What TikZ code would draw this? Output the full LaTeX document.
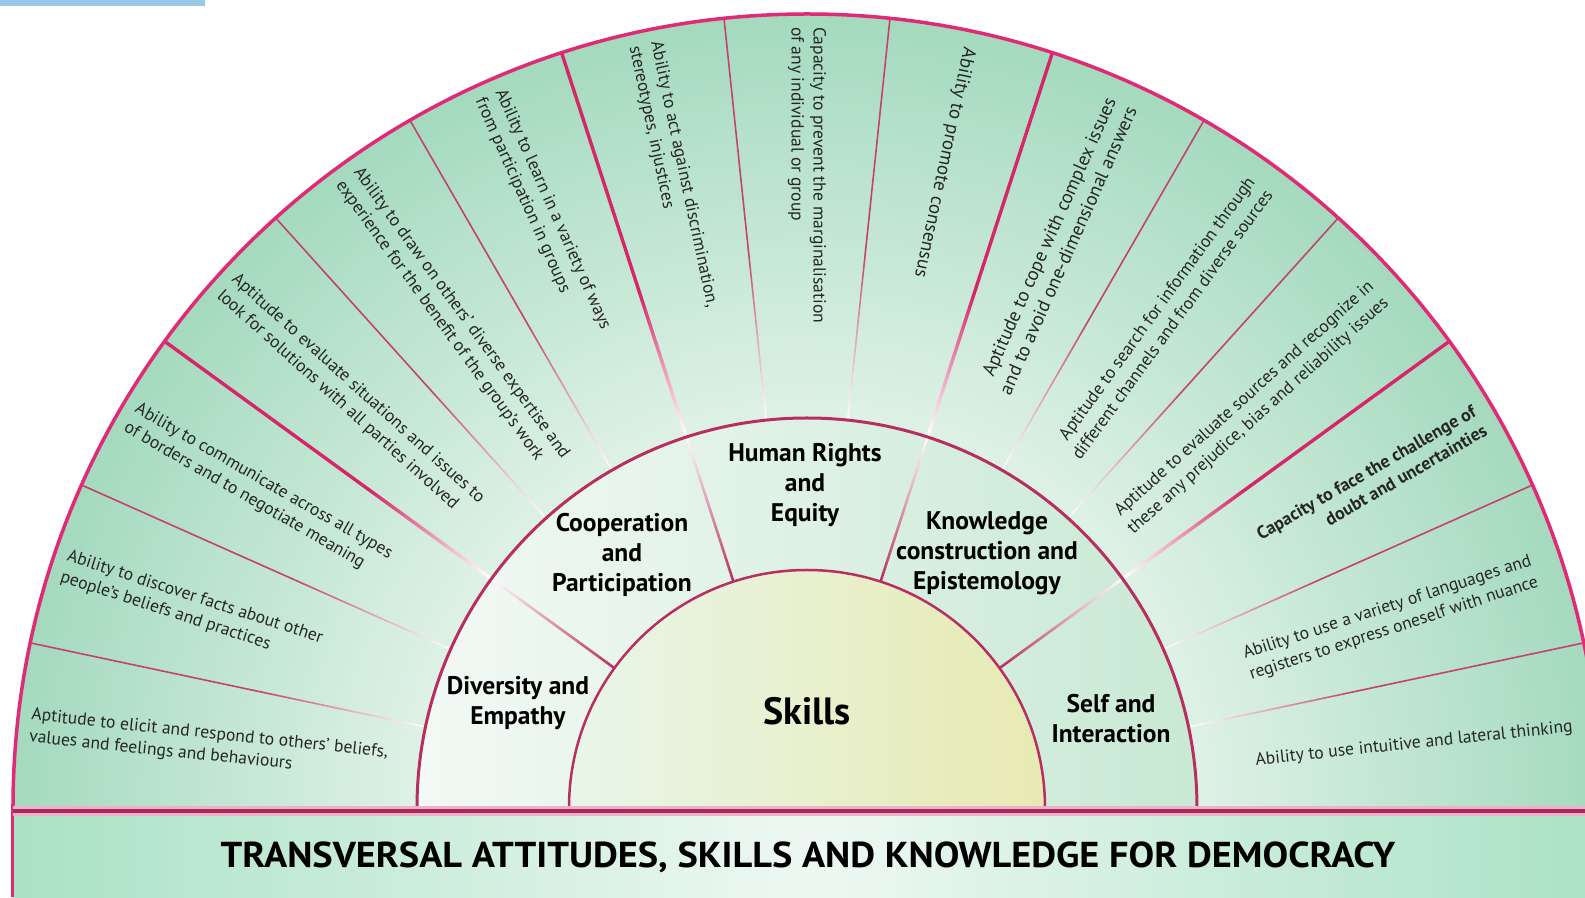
\documentclass[tikz,border=0pt]{standalone}
\usepackage{fontspec}
\setmainfont{PT Sans}
\definecolor{rimpink}{RGB}{224,42,118}
\definecolor{spokepink}{RGB}{196,66,112}
\definecolor{thickpink}{RGB}{214,38,106}
\definecolor{ringpink}{RGB}{184,46,96}
\definecolor{barred}{RGB}{162,44,88}
\definecolor{bargleam}{RGB}{240,176,204}
\definecolor{mint}{RGB}{164,218,190}
\definecolor{mintpale}{RGB}{224,242,231}
\definecolor{ringleft}{RGB}{243,249,245}
\definecolor{ringright}{RGB}{200,233,212}
\definecolor{coreleft}{RGB}{232,246,234}
\definecolor{coremid}{RGB}{237,242,212}
\definecolor{coreright}{RGB}{232,234,178}
\definecolor{barmint}{RGB}{170,226,197}
\definecolor{barpale}{RGB}{238,248,243}
\definecolor{tabblue}{RGB}{152,202,232}
\pgfdeclareradialshading{fanshade}{\pgfpointorigin}{color(0bp)=(mintpale); color(12bp)=(mintpale); color(25bp)=(mint); color(75bp)=(mint)}

\begin{document}
\begin{tikzpicture}[x=1pt,y=1pt,
  outtext/.style={font=\fontsize{17.6}{22}\selectfont, inner sep=0pt, text=black!85},
  bigtext/.style={font=\fontsize{19}{23}\selectfont},
  lefttext/.style={outtext, anchor=west, align=left},
  righttext/.style={outtext, anchor=east, align=right},
  midtext/.style={font=\fontsize{25.5}{30}\selectfont\bfseries, align=center, inner sep=0pt}]
\useasboundingbox (-807,-89) rectangle (778,808);
\fill[tabblue] (-807,808) rectangle (-602,802);
\shade[left color=barmint, right color=barmint, middle color=barpale] (-794,-89) rectangle (800,-3);
\begin{scope}
  \clip (-800,-3) rectangle (800,800);
  \shade[shading=fanshade] (0,0) circle (794);
  \foreach \a in {12,24,...,168} {
    \shade[transform canvas={rotate=\a}, left color=white, right color=spokepink] (392,-0.8) rectangle (560,0.8);
    \fill[transform canvas={rotate=\a}, spokepink] (560,-0.8) rectangle (794,0.8);
  }
  \foreach \a in {36,72,108,144} {
    \shade[transform canvas={rotate=\a}, left color=white, right color=thickpink] (392,-1.7) rectangle (540,1.7);
    \fill[transform canvas={rotate=\a}, thickpink] (540,-1.7) rectangle (794,1.7);
  }
  \shade[left color=ringleft, right color=ringright] (0,0) circle (390);
  \foreach \a in {36,72,108,144}
    \shade[transform canvas={rotate=\a}, left color=ringpink, right color=white] (238,-1.3) rectangle (392,1.3);
  \shade[left color=coreleft, middle color=coremid, right color=coreright] (0,0) circle (238);
\end{scope}
\draw[rimpink, line width=3.5] (-794,-3) -- (-794,0) arc[start angle=180, end angle=0, radius=794] -- (794,-3);
\draw[ringpink, line width=3] (-390,-3) -- (-390,0) arc[start angle=180, end angle=0, radius=390] -- (390,-3);
\draw[ringpink, line width=2.5] (-238,-3) -- (-238,0) arc[start angle=180, end angle=0, radius=238] -- (238,-3);
\draw[rimpink, line width=3] (-794,-3) -- (-794,-89);
\draw[bargleam, line width=10] (-794,-3) -- (800,-3);
\draw[barred, line width=4.5] (-794,-3) -- (800,-3);

\node[lefttext, rotate=-6] (elicit) at (174:781) {Aptitude to elicit and respond to others' beliefs,\\values and feelings and behaviours};
\node[lefttext, rotate=-18] (discover) at (162:781) {Ability to discover facts about other\\people's beliefs and practices};
\node[lefttext, rotate=-30] (communicate) at (150:781) {Ability to communicate across all types\\of borders and to negotiate meaning};
\node[lefttext, rotate=-42] (situations) at (138:781) {Aptitude to evaluate situations and issues to\\look for solutions with all parties involved};
\node[lefttext, rotate=-54] (expertise) at (126:781) {Ability to draw on others' diverse expertise and\\experience for the benefit of the group's work};
\node[lefttext, rotate=-66] (learn) at (114:781) {Ability to learn in a variety of ways\\from participation in groups};
\node[lefttext, rotate=-78] (discrimination) at (102:781) {Ability to act against discrimination,\\stereotypes, injustices};
\node[lefttext, rotate=-90] (marginalisation) at (90:781) {Capacity to prevent the marginalisation\\of any individual or group};
\node[lefttext, bigtext, rotate=-102] (consensus) at (78:778) {Ability to promote consensus};
\node[righttext, bigtext, rotate=66] (complex) at (66:772) {Aptitude to cope with complex issues\\and to avoid one-dimensional answers};
\node[righttext, rotate=54] (search) at (54:770) {Aptitude to search for information through\\different channels and from diverse sources};
\node[righttext, rotate=42] (sources) at (42:770) {Aptitude to evaluate sources and recognize in\\these any prejudice, bias and reliability issues};
\node[righttext, rotate=30, font=\fontsize{18}{22}\selectfont\bfseries] (doubt) at (30:777) {Capacity to face the challenge of\\doubt and uncertainties};
\node[righttext, rotate=18] (languages) at (18:765) {Ability to use a variety of languages and\\registers to express oneself with nuance};
\node[righttext, rotate=6] (intuitive) at (6:770) {Ability to use intuitive and lateral thinking};

\node[midtext] (diversity) at (-289,105) {Diversity and\\Empathy};
\node[midtext] (cooperation) at (-185,253) {Cooperation\\and\\Participation};
\node[midtext] (rights) at (-2,323) {Human Rights\\and\\Equity};
\node[midtext] (knowledge) at (180,255) {Knowledge\\construction and\\Epistemology};
\node[midtext] (self) at (304,89) {Self and\\Interaction};
\node[font=\fontsize{38}{44}\selectfont\bfseries] (skills) at (0,97) {Skills};
\node[font=\fontsize{36}{40}\selectfont\bfseries] (banner) at (1,-49) {\scalebox{1.065}[1]{TRANSVERSAL ATTITUDES, SKILLS AND KNOWLEDGE FOR DEMOCRACY}};
\end{tikzpicture}
\end{document}
